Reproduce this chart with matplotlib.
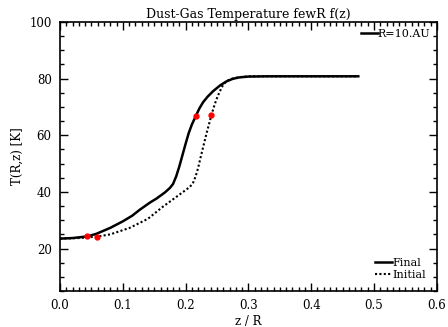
import numpy as np
import matplotlib
matplotlib.use("Agg")
import matplotlib.pyplot as plt
from matplotlib.ticker import MultipleLocator

# ------------------------------------------------------------------
# data
# ------------------------------------------------------------------
z_final = [0.0, 0.02, 0.044, 0.058, 0.08, 0.10, 0.115, 0.127, 0.143, 0.154,
           0.167, 0.175, 0.180, 0.185, 0.190, 0.195, 0.200, 0.205, 0.210,
           0.2165, 0.222, 0.228, 0.235, 0.244, 0.255, 0.265, 0.275, 0.285,
           0.30, 0.33, 0.40, 0.475]
T_final = [23.5, 23.7, 24.3, 25.2, 27.3, 29.6, 31.6, 33.7, 36.2, 37.7,
           39.8, 41.4, 42.8, 45.5, 49.0, 53.0, 57.0, 60.8, 63.8,
           66.9, 69.5, 71.7, 73.6, 75.6, 77.6, 79.0, 79.9, 80.4,
           80.7, 80.8, 80.8, 80.8]

z_init = [0.0, 0.03, 0.059, 0.08, 0.111, 0.14, 0.164, 0.19, 0.207, 0.212,
          0.216, 0.220, 0.223, 0.227, 0.2335, 0.241, 0.245, 0.249, 0.254,
          0.26, 0.266, 0.273, 0.281, 0.29, 0.30, 0.33, 0.40, 0.475]
T_init = [23.5, 23.7, 24.2, 25.0, 27.3, 30.5, 34.8, 39.0, 41.8, 43.3,
          45.5, 48.5, 51.4, 55.0, 60.8, 67.0, 70.0, 72.6, 75.3,
          77.9, 79.2, 79.9, 80.3, 80.6, 80.8, 80.8, 80.8, 80.8]

# red markers
z_dots = [0.0435, 0.059, 0.2165, 0.241]
T_dots = [24.3, 24.2, 66.9, 67.0]

plt.rcParams['font.family'] = ['DejaVu Serif']
plt.rcParams['font.size'] = 8.5

fig = plt.figure(figsize=(4.48, 3.27), dpi=100)
ax = fig.add_axes([0.134, 0.110, 0.841, 0.823])

final_line, = ax.plot(z_final, T_final, color='black', lw=1.8, label='Final')
init_line, = ax.plot(z_init, T_init, color='black', lw=1.5, ls=(0, (1, 1.1)),
                     label='Initial')
ax.plot(z_dots, T_dots, 'o', color='red', ms=3.5, mec='red', zorder=5)

ax.set_xlim(0.0, 0.6)
ax.set_ylim(5, 100)
ax.xaxis.set_major_locator(MultipleLocator(0.1))
ax.xaxis.set_minor_locator(MultipleLocator(0.01))
ax.yaxis.set_major_locator(MultipleLocator(20))
ax.yaxis.set_minor_locator(MultipleLocator(5))
ax.set_xticklabels([f"{v:.1f}" for v in ax.get_xticks()])
ax.tick_params(which='both', direction='in', top=True, right=True, width=1)
ax.tick_params(which='major', length=6, pad=6)
ax.tick_params(which='minor', length=3)
for s in ax.spines.values():
    s.set_linewidth(1.2)

ax.set_title("Dust-Gas Temperature fewR f(z)", fontsize=9, pad=3)
ax.set_xlabel("z / R", labelpad=2)
ax.set_ylabel("T(R,z) [K]", labelpad=4)

# legends
r_handle, = ax.plot([], [], color='black', lw=1.8)
leg1 = ax.legend([r_handle], ["R=10.AU"], loc='upper right', frameon=False,
                 handlelength=1.5, handletextpad=0.0, borderaxespad=0.2,
                 fontsize=8)
ax.add_artist(leg1)
ax.legend([final_line, init_line], ["Final", "Initial"], loc='lower right',
          frameon=False, handlelength=1.5, handletextpad=0.0,
          labelspacing=0.2, borderaxespad=0.6, fontsize=8)

fig.savefig("out.png", dpi=100)
